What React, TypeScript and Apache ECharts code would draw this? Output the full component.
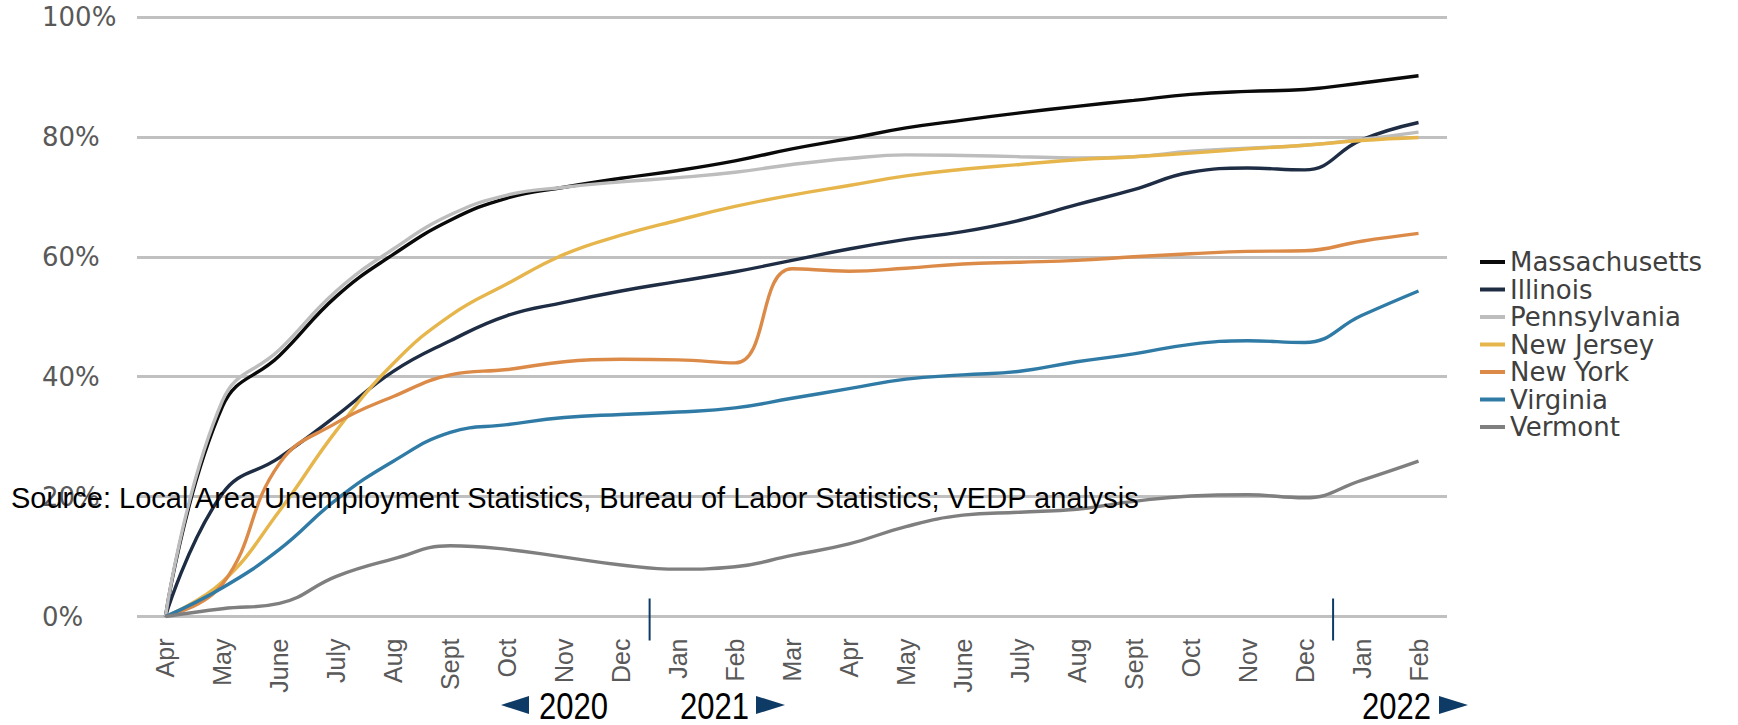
import React, { useEffect, useRef } from "react";
import * as echarts from "echarts";

const categories = [
  "Apr", "May", "June", "July", "Aug", "Sept", "Oct", "Nov", "Dec",
  "Jan", "Feb", "Mar", "Apr", "May", "June", "July", "Aug", "Sept", "Oct", "Nov", "Dec",
  "Jan", "Feb",
];

const yTicks = [0, 20, 40, 60, 80, 100];

const massachusetts = [0, 35, 43.5, 53.4, 60.4, 66.1, 69.8, 71.6, 73.1, 74.4, 76, 78, 79.7, 81.5, 82.8, 84, 85.1, 86.1, 87.1, 87.6, 87.9, 89, 90.2];
const illinois = [0, 20.5, 26.5, 33.5, 40.9, 46, 50.2, 52.4, 54.3, 55.9, 57.5, 59.4, 61.3, 62.9, 64.2, 66.1, 68.7, 71.2, 74.1, 74.8, 74.5, 79.5, 82.4];
const pennsylvania = [0, 36, 44.5, 54.3, 61.3, 67, 70.3, 71.6, 72.5, 73.2, 74.1, 75.4, 76.4, 77, 76.9, 76.7, 76.5, 76.7, 77.6, 78.1, 78.6, 79.6, 80.8];
const newJersey = [0, 5.8, 17.6, 31, 42.2, 50.2, 55.5, 60.4, 63.6, 66.1, 68.4, 70.3, 71.9, 73.5, 74.6, 75.4, 76.2, 76.7, 77.3, 78, 78.6, 79.4, 79.9];
const newYork = [0, 5.4, 25.5, 32.3, 36.7, 40.3, 41.2, 42.5, 42.9, 42.8, 42.3, 58, 57.6, 58.1, 58.8, 59.1, 59.4, 60, 60.5, 60.9, 61, 62.6, 63.9];
const virginia = [0, 4.8, 11.2, 19.5, 25.9, 30.7, 32, 33.2, 33.7, 34.1, 34.8, 36.4, 38, 39.6, 40.3, 40.9, 42.5, 43.8, 45.4, 46, 45.7, 50.2, 54.3];
const vermont = [0, 1.3, 2.2, 6.7, 9.6, 11.8, 11.2, 9.9, 8.6, 7.9, 8.3, 10.2, 12.1, 15, 16.9, 17.4, 17.9, 19.2, 20.1, 20.3, 19.8, 22.7, 25.9];

const seriesNames = ["Massachusetts", "Illinois", "Pennsylvania", "New Jersey", "New York", "Virginia", "Vermont"];
const seriesData = [massachusetts, illinois, pennsylvania, newJersey, newYork, virginia, vermont];
const seriesColors = ["#0a0a0a", "#1e2d44", "#bdbdbd", "#e6b64c", "#dc8a48", "#2f7ba6", "#7f7f7f"];

const yearDividerAfter = [8, 20]; // indexes of "Dec" after which a new year starts

const sourceText = "Source: Local Area Unemployment Statistics, Bureau of Labor Statistics; VEDP analysis";

export default function App() {
  const ref = useRef<HTMLDivElement>(null);

  useEffect(() => {
    if (!ref.current) return;
    const chart = echarts.init(ref.current, undefined, { renderer: "svg" });
    const navy = "#0d3b66";

    const option: any = {
      animation: false,
      backgroundColor: "#ffffff",
      grid: { left: 137, right: 291, top: 17, bottom: 108.5, containLabel: false },
      legend: {
        orient: "vertical",
        left: 1480,
        top: 249,
        padding: 0,
        itemGap: 1.5,
        itemWidth: 25,
        itemHeight: 4,
        icon: "rect",
        data: seriesNames,
        textStyle: {
          fontFamily: "DejaVu Sans",
          fontSize: 26,
          lineHeight: 26,
          color: "#404040",
        },
      },
      xAxis: {
        type: "category",
        data: categories,
        boundaryGap: true,
        axisLine: { show: false },
        axisTick: { show: false },
        axisLabel: {
          interval: 0,
          rotate: 90,
          margin: 22,
          fontFamily: "Liberation Sans",
          fontSize: 25,
          color: "#595959",
        },
      },
      yAxis: {
        type: "value",
        min: yTicks[0],
        max: yTicks[yTicks.length - 1],
        interval: 20,
        axisLine: { show: false },
        axisTick: { show: false },
        splitLine: { lineStyle: { color: "#c0c0c0", width: 3 } },
        axisLabel: {
          formatter: "{value}%",
          align: "left",
          margin: 95,
          fontFamily: "DejaVu Sans",
          fontSize: 26,
          color: "#595959",
        },
      },
      series: seriesNames.map((name, i) => ({
        name,
        type: "line",
        data: seriesData[i],
        smooth: 0.45,
        showSymbol: false,
        symbol: "none",
        color: seriesColors[i],
        lineStyle: { color: seriesColors[i], width: 3.4 },
        emphasis: { disabled: true },
      })),
    };

    chart.setOption(option);

    const y0 = chart.convertToPixel({ yAxisIndex: 0 }, 0) as number;
    const dividers = yearDividerAfter.map((idx) => {
      const a = chart.convertToPixel({ xAxisIndex: 0 }, idx) as number;
      const b = chart.convertToPixel({ xAxisIndex: 0 }, idx + 1) as number;
      const x = (a + b) / 2;
      return {
        type: "line",
        z: 50,
        shape: { x1: x, y1: y0 - 18, x2: x, y2: y0 + 24 },
        style: { stroke: navy, lineWidth: 2 },
      };
    });

    const yearText = (text: string, x: number) => ({
      type: "text",
      x,
      y: 706,
      scaleX: 0.84,
      z: 100,
      style: {
        text,
        fontFamily: "Liberation Sans",
        fontSize: 37,
        fill: "#000000",
        textAlign: "left",
        textVerticalAlign: "middle",
        align: "left",
        verticalAlign: "middle",
      },
    });

    chart.setOption({
      graphic: [
        ...dividers,
        {
          type: "text",
          x: 11,
          y: 498,
          z: 100,
          style: {
            text: sourceText,
            fontFamily: "Liberation Sans",
            fontSize: 29,
            fill: "#000000",
            textAlign: "left",
            textVerticalAlign: "middle",
            align: "left",
            verticalAlign: "middle",
          },
        },
        { type: "polygon", z: 100, shape: { points: [[501, 705], [529, 696], [529, 714]] }, style: { fill: navy } },
        yearText("2020", 539),
        yearText("2021", 680),
        { type: "polygon", z: 100, shape: { points: [[756, 696], [785, 705], [756, 714]] }, style: { fill: navy } },
        yearText("2022", 1362),
        { type: "polygon", z: 100, shape: { points: [[1439, 696], [1468, 705], [1439, 714]] }, style: { fill: navy } },
      ],
    });

    return () => {
      chart.dispose();
    };
  }, []);

  return (
    <div
      ref={ref}
      style={{ position: "fixed", left: 0, top: 0, width: 1738, height: 725, background: "#fff" }}
    />
  );
}
